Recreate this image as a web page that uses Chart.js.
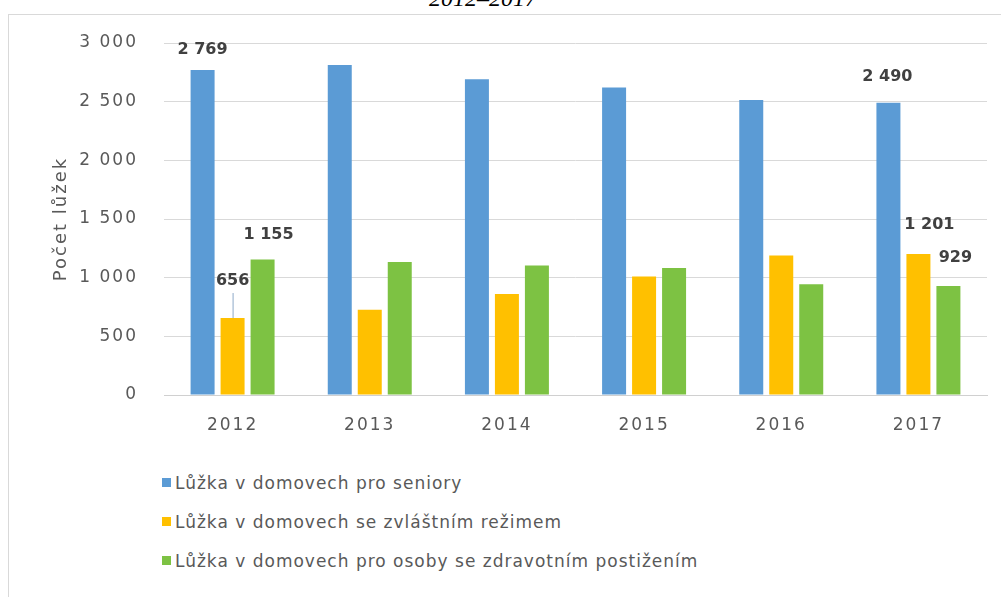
<!DOCTYPE html>
<html>
<head>
<meta charset="utf-8">
<script src="https://cdn.jsdelivr.net/npm/chart.js@4"></script>
<style>
  html, body { margin: 0; padding: 0; background: #fff; overflow: hidden; }
  body { width: 1001px; height: 597px; position: relative; font-family: "DejaVu Sans", sans-serif; }
  #title { position: absolute; left: 0; width: 966px; top: -14px; text-align: center;
           font-family: "Liberation Serif", serif; font-style: italic; font-size: 24px; line-height: 24px; color: #000; }
  #frame { position: absolute; left: 8px; top: 14px; width: 1010px; height: 600px;
           border-top: 1px solid #d9d9d9; border-left: 1px solid #d9d9d9; box-sizing: border-box; }
  #c { position: absolute; left: 0; top: 0; }
  #legend { position: absolute; left: 162px; top: 463px; }
  .item { height: 39px; display: flex; align-items: center; font-size: 17px; color: #595959; letter-spacing: 1px; }
  .sw { width: 9px; height: 9px; margin-right: 4px; flex: none; }
</style>
</head>
<body>
<div id="title">2012–2017</div>
<div id="frame"></div>
<canvas id="c" width="1001" height="440"></canvas>
<div id="legend"></div>
<script>
const years = ["2012", "2013", "2014", "2015", "2016", "2017"];
const seriesNames = [
  "Lůžka v domovech pro seniory",
  "Lůžka v domovech se zvláštním režimem",
  "Lůžka v domovech pro osoby se zdravotním postižením"
];
const seniors = [2769, 2812, 2692, 2621, 2515, 2490];
const specialRegime = [656, 726, 860, 1011, 1188, 1201];
const disabled = [1155, 1134, 1103, 1083, 944, 929];
const colors = ["#5B9BD5", "#FFC000", "#7DC243"];
const yTitle = "Počet lůžek";
const yMin = 0, yMax = 3000, yStep = 500;

// labels shown (dataset, index) with small offsets from bar top
const shownLabels = [
  { ds: 0, i: 0, dx: 0, dy: -20 },
  { ds: 1, i: 0, dx: 0, dy: -37, leader: true },
  { ds: 2, i: 0, dx: 6, dy: -25 },
  { ds: 0, i: 5, dx: -1, dy: -26 },
  { ds: 1, i: 5, dx: 11, dy: -29 },
  { ds: 2, i: 5, dx: 7, dy: -28 }
];

function fmt(v) { return String(v).replace(/\B(?=(\d{3})+(?!\d))/g, " "); }

const spacingPlugin = {
  id: "spacing",
  beforeDraw(chart) { chart.ctx.letterSpacing = "2px"; }
};

const labelPlugin = {
  id: "barLabels",
  afterDatasetsDraw(chart) {
    const ctx = chart.ctx;
    ctx.save();
    ctx.letterSpacing = "0px";
    ctx.font = "bold 16px 'DejaVu Sans'";
    ctx.fillStyle = "#404040";
    ctx.textAlign = "center";
    ctx.textBaseline = "middle";
    shownLabels.forEach(l => {
      const bar = chart.getDatasetMeta(l.ds).data[l.i];
      const v = chart.data.datasets[l.ds].data[l.i];
      const x = bar.x + l.dx, y = bar.y + l.dy;
      if (l.leader) {
        ctx.strokeStyle = "#8ea9c8";
        ctx.lineWidth = 1;
        ctx.beginPath();
        ctx.moveTo(bar.x + 0.5, y + 12);
        ctx.lineTo(bar.x + 0.5, bar.y);
        ctx.stroke();
      }
      ctx.fillText(fmt(v), x, y);
    });
    ctx.restore();
  }
};

const seriesData = [seniors, specialRegime, disabled];
new Chart(document.getElementById("c"), {
  type: "bar",
  data: {
    labels: years,
    datasets: seriesData.map((d, k) => ({
      label: seriesNames[k],
      data: d,
      backgroundColor: colors[k],
      borderWidth: 0,
      categoryPercentage: 0.656,
      barPercentage: 0.8
    }))
  },
  options: {
    responsive: false,
    devicePixelRatio: 1,
    animation: false,
    layout: { padding: { left: 0, right: 14, top: 43, bottom: 0 } },
    plugins: { legend: { display: false }, tooltip: { enabled: false } },
    scales: {
      x: {
        grid: { display: false },
        border: { display: true, color: "#d0d0d0", width: 1 },
        ticks: { color: "#595959", font: { family: "DejaVu Sans", size: 17 }, padding: 12 },
        afterFit(axis) { axis.height = 45; }
      },
      y: {
        min: yMin, max: yMax,
        ticks: { stepSize: yStep, color: "#595959", font: { family: "DejaVu Sans", size: 17 }, padding: 26,
                 callback: v => fmt(v) },
        grid: { color: "#d9d9d9", drawTicks: false },
        border: { display: false },
        title: { display: true, text: yTitle, color: "#595959", font: { family: "DejaVu Sans", size: 18 },
                 padding: { top: 51, bottom: 0 } },
        afterFit(axis) { axis.width = 164; }
      }
    }
  },
  plugins: [spacingPlugin, labelPlugin]
});

const leg = document.getElementById("legend");
seriesNames.forEach((n, k) => {
  const row = document.createElement("div");
  row.className = "item";
  const sw = document.createElement("span");
  sw.className = "sw";
  sw.style.background = colors[k];
  const t = document.createElement("span");
  t.textContent = n;
  row.appendChild(sw); row.appendChild(t);
  leg.appendChild(row);
});
</script>
</body>
</html>
